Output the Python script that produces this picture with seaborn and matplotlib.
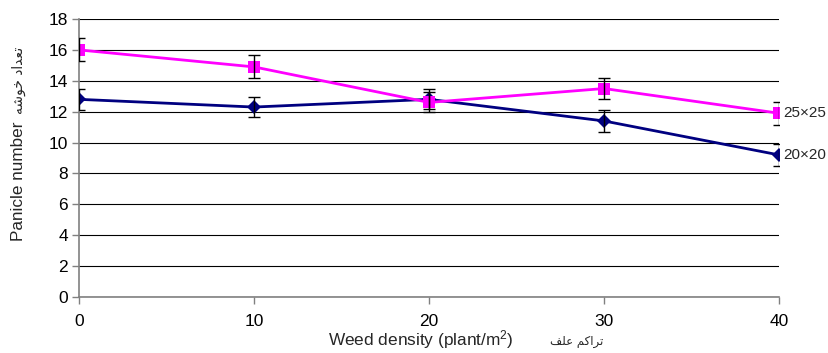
import matplotlib
matplotlib.use("Agg")
import matplotlib.pyplot as plt
import seaborn as sns
import pandas as pd

# Data
density = [0, 10, 20, 30, 40]
s25 = [16.0, 14.9, 12.6, 13.5, 11.9]
s25_err = [0.75, 0.75, 0.65, 0.7, 0.75]
s20 = [12.8, 12.3, 12.8, 11.4, 9.2]
s20_err = [0.7, 0.65, 0.65, 0.7, 0.7]
series_names = ["25×25", "20×20"]
yticks = list(range(0, 19, 2))
xticks = [0, 10, 20, 30, 40]

sns.set_theme(style="white")
plt.rcParams['font.family'] = ['Liberation Sans', 'DejaVu Sans']
plt.rcParams['mathtext.fontset'] = 'custom'
plt.rcParams['mathtext.rm'] = 'Liberation Sans'
plt.rcParams['mathtext.default'] = 'regular'

df = pd.DataFrame({
    "density": density * 2,
    "value": s25 + s20,
    "series": [series_names[0]] * 5 + [series_names[1]] * 5,
})

fig = plt.figure(figsize=(8.29, 3.53), dpi=100)
ax = fig.add_axes([0.0953, 0.1586, 0.8444, 0.7875])

palette = {series_names[0]: "#FF00FF", series_names[1]: "#000080"}
markers = {series_names[0]: "s", series_names[1]: "D"}
sns.lineplot(data=df, x="density", y="value", hue="series", style="series",
             palette=palette, markers=markers, dashes=False, linewidth=2,
             markersize=8, markeredgewidth=0, ax=ax, legend=False,
             hue_order=[series_names[1], series_names[0]],
             style_order=[series_names[1], series_names[0]], zorder=3)
for line in ax.lines:
    if line.get_color().lower() in ("#000080",):
        line.set_markersize(7)

ax.errorbar(density, s20, yerr=s20_err, fmt="none", ecolor="black",
            elinewidth=1, capsize=4, capthick=1, zorder=4)
ax.errorbar(density, s25, yerr=s25_err, fmt="none", ecolor="black",
            elinewidth=1, capsize=4, capthick=1, zorder=4)

ax.set_xlim(0, 40)
ax.set_ylim(0, 18)
ax.set_xticks(xticks)
ax.set_yticks(yticks)
ax.set_xlabel("")
ax.set_ylabel("")
ax.yaxis.grid(True, color="black", linewidth=0.8)
ax.xaxis.grid(False)
ax.set_axisbelow(True)
for s in ["top", "right"]:
    ax.spines[s].set_visible(False)
ax.spines["left"].set_color("#808080")
ax.spines["left"].set_linewidth(1.2)
ax.spines["bottom"].set_color("#808080")
ax.spines["bottom"].set_linewidth(1.2)
ax.tick_params(axis="both", which="both", direction="out", length=5,
               width=1, color="#808080", labelsize=12.5, labelcolor="black",
               pad=3, bottom=True, left=True)
ax.tick_params(axis="x", pad=7)

# Axis titles (Arabic script given in presentation forms, visual order)
fig.text(19 / 829, 1 - 181 / 353, "Panicle number", rotation=90,
         fontsize=12.3, ha="center", va="center")
fig.text(19 / 829, 1 - 80 / 353, "ﻪﺷﻮﺧ ﺩﺍﺪﻌﺗ", rotation=90,
         fontsize=10, ha="center", va="center",
         family=['DejaVu Sans'])
fig.text(421 / 829, 1 - 340 / 353, "Weed density (plant/m$^2$)",
         fontsize=12.4, ha="center", va="center")
fig.text(577 / 829, 1 - 342 / 353, "ﻒﻠﻋ ﻢﮐﺍﺮﺗ",
         fontsize=8.5, ha="center", va="center", family=['DejaVu Sans'])

ax.text(40.25, s25[-1], series_names[0], fontsize=11, va="center", ha="left",
        clip_on=False)
ax.text(40.25, s20[-1], series_names[1], fontsize=11, va="center", ha="left",
        clip_on=False)

fig.savefig("out.png", dpi=100)
